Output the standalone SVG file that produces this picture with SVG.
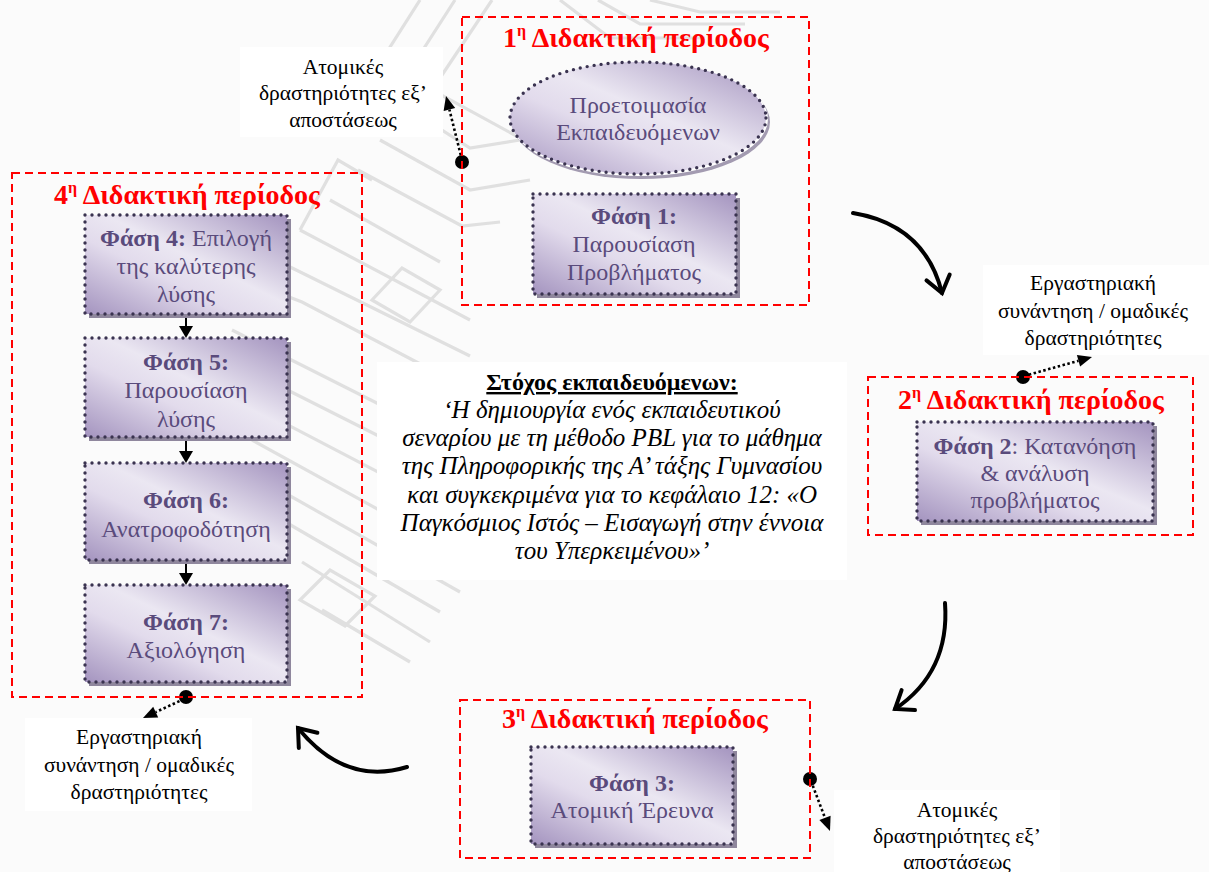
<svg xmlns="http://www.w3.org/2000/svg" width="1209" height="872" viewBox="0 0 1209 872">
  <defs>
    <linearGradient id="phaseFill" x1="0" y1="1" x2="1" y2="0">
      <stop offset="0" stop-color="#a494bf"/>
      <stop offset="0.38" stop-color="#e2dbec"/>
      <stop offset="0.55" stop-color="#ebe7f2"/>
      <stop offset="1" stop-color="#a494bf"/>
    </linearGradient>
  </defs>

  <!-- page background -->
  <rect width="1209" height="872" fill="#fbfbfb"/>

  <!-- faint circuit watermark along the diagonal band -->
  <g id="watermark" fill="none" stroke="#e0e0e0" stroke-width="3.2">
    <path d="M420,0 L350,110 L385,132"/>
    <path d="M455,0 L392,98 L470,148 L520,140"/>
    <path d="M492,0 L432,90 L520,138 L600,120"/>
    <path d="M560,0 L610,38 L705,38"/>
    <path d="M598,0 L640,24 L745,24"/>
    <path d="M650,0 L700,12 L780,12"/>
    <path d="M380,140 L470,190 L530,180"/>
    <path d="M358,170 L462,226 L500,222"/>
    <path d="M330,200 L440,262"/>
    <path d="M300,230 L470,320"/>
    <path d="M280,262 L470,356"/>
    <path d="M250,282 L302,302 L470,390"/>
    <path d="M232,330 L470,450"/>
    <path d="M232,362 L470,482"/>
    <path d="M240,400 L470,520"/>
    <path d="M252,440 L470,560"/>
    <path d="M262,480 L460,592"/>
    <path d="M282,520 L440,612"/>
    <path d="M302,562 L430,642"/>
    <path d="M322,610 L410,662"/>
    <path d="M372,300 L402,268 L440,290 L410,322 Z"/>
    <path d="M300,600 L330,570 L375,596 L345,626 Z"/>
    <path d="M300,230 L338,160 L372,180"/>
  </g>

  <!-- connectors -->
  <g id="connectors">
    <!-- curved flow arrows with open heads -->
    <g fill="none" stroke="#000000" stroke-width="4" stroke-linecap="round">
      <path d="M853,213 Q925,225 942,293"/>
      <path d="M926.5,280.4 L942,293 L949.7,274.6"/>
      <path d="M945,603 Q950,672 895,709"/>
      <path d="M901.6,690.1 L895,709 L915,710.1"/>
      <path d="M407,767 Q345,786 298,728"/>
      <path d="M317.4,732.8 L298,728 L298.8,748"/>
    </g>
    <!-- steps between phases -->
    <g stroke="#000000" stroke-width="2">
      <line x1="186" y1="314" x2="186" y2="327"/>
      <line x1="186" y1="437" x2="186" y2="452"/>
      <line x1="186" y1="560" x2="186" y2="574"/>
    </g>
    <g fill="#000000">
      <path d="M179,326 L193,326 L186,338 Z"/>
      <path d="M179,451 L193,451 L186,463 Z"/>
      <path d="M179,573 L193,573 L186,585 Z"/>
    </g>
    <!-- anchor dots and dotted pointers to the side notes -->
    <g fill="#000000">
      <circle cx="462" cy="162" r="7"/>
      <circle cx="1023" cy="377" r="7"/>
      <circle cx="810" cy="779" r="7"/>
      <circle cx="186" cy="697" r="7"/>
    </g>
    <g fill="none" stroke="#000000" stroke-width="2.6" stroke-dasharray="2.5 2.5">
      <path d="M462,160 L449.4,109.6"/>
      <path d="M1024,376 L1078.5,360.8"/>
      <path d="M811,781 L825,817.9"/>
      <path d="M184,699 L155.7,712.1"/>
    </g>
    <g fill="#000000">
      <path d="M455.2,108.1 L446,96 L443.6,111.1 Z"/>
      <path d="M1080.1,366.6 L1092,357 L1076.9,355 Z"/>
      <path d="M819.4,820 L830,831 L830.6,815.8 Z"/>
      <path d="M153.2,706.7 L143,718 L158.2,717.5 Z"/>
    </g>
  </g>

  <!-- side notes -->
  <g id="note-distance-1" font-family="Liberation Serif, serif" font-size="21.5" text-anchor="middle">
    <rect x="240" y="47" width="203" height="90" fill="#ffffff"/>
    <text font-family="Liberation Serif, serif" x="343" y="74">Ατομικές</text>
    <text font-family="Liberation Serif, serif" x="343" y="100">δραστηριότητες εξ’</text>
    <text font-family="Liberation Serif, serif" x="343" y="127">αποστάσεως</text>
  </g>
  <g id="note-lab-2" font-family="Liberation Serif, serif" font-size="21.5" text-anchor="middle">
    <rect x="983" y="265" width="226" height="90" fill="#ffffff"/>
    <text font-family="Liberation Serif, serif" x="1093" y="290">Εργαστηριακή</text>
    <text font-family="Liberation Serif, serif" x="1093" y="318">συνάντηση / ομαδικές</text>
    <text font-family="Liberation Serif, serif" x="1093" y="345">δραστηριότητες</text>
  </g>
  <g id="note-distance-3" font-family="Liberation Serif, serif" font-size="21.5" text-anchor="middle">
    <rect x="834" y="790" width="226" height="82" fill="#ffffff"/>
    <text font-family="Liberation Serif, serif" x="957" y="817">Ατομικές</text>
    <text font-family="Liberation Serif, serif" x="957" y="843">δραστηριότητες εξ’</text>
    <text font-family="Liberation Serif, serif" x="957" y="869">αποστάσεως</text>
  </g>
  <g id="note-lab-4" font-family="Liberation Serif, serif" font-size="21.5" text-anchor="middle">
    <rect x="25" y="718" width="227" height="93" fill="#ffffff"/>
    <text font-family="Liberation Serif, serif" x="139" y="744">Εργαστηριακή</text>
    <text font-family="Liberation Serif, serif" x="139" y="772">συνάντηση / ομαδικές</text>
    <text font-family="Liberation Serif, serif" x="139" y="799">δραστηριότητες</text>
  </g>

  <!-- learners' goal -->
  <g id="goal" font-family="Liberation Serif, serif" font-size="25" text-anchor="middle">
    <rect x="377" y="362" width="470" height="218" fill="#ffffff"/>
    <text font-family="Liberation Serif, serif" x="612" y="390" font-size="24" font-weight="bold" text-decoration="underline">Στόχος εκπαιδευόμενων:</text>
    <text font-family="Liberation Serif, serif" x="612" y="418" font-style="italic">‘Η δημιουργία ενός εκπαιδευτικού</text>
    <text font-family="Liberation Serif, serif" x="612" y="446" font-style="italic">σεναρίου με τη μέθοδο PBL για το μάθημα</text>
    <text font-family="Liberation Serif, serif" x="612" y="474" font-style="italic">της Πληροφορικής της Α’ τάξης Γυμνασίου</text>
    <text font-family="Liberation Serif, serif" x="612" y="503" font-style="italic">και συγκεκριμένα για το κεφάλαιο 12: «Ο</text>
    <text font-family="Liberation Serif, serif" x="612" y="531" font-style="italic">Παγκόσμιος Ιστός – Εισαγωγή στην έννοια</text>
    <text font-family="Liberation Serif, serif" x="612" y="559" font-style="italic">του Υπερκειμένου»’</text>
  </g>

  <!-- period frames -->
  <g id="period-1">
    <rect x="462" y="17" width="347" height="288" fill="none" stroke="#ff0000" stroke-width="2" stroke-dasharray="8 5"/>
    <text font-family="Liberation Serif, serif" font-size="28" font-weight="bold" fill="#ff0000" text-anchor="middle" x="636" y="47">1<tspan font-size="16" dy="-11">η</tspan><tspan dy="11"> Διδακτική περίοδος</tspan></text>
  </g>
  <g id="period-2">
    <rect x="868" y="377" width="325" height="158" fill="none" stroke="#ff0000" stroke-width="2" stroke-dasharray="8 5"/>
    <text font-family="Liberation Serif, serif" font-size="28" font-weight="bold" fill="#ff0000" text-anchor="middle" x="1031" y="409">2<tspan font-size="16" dy="-11">η</tspan><tspan dy="11"> Διδακτική περίοδος</tspan></text>
  </g>
  <g id="period-3">
    <rect x="460" y="700" width="350" height="158" fill="none" stroke="#ff0000" stroke-width="2" stroke-dasharray="8 5"/>
    <text font-family="Liberation Serif, serif" font-size="28" font-weight="bold" fill="#ff0000" text-anchor="middle" x="635" y="728">3<tspan font-size="16" dy="-11">η</tspan><tspan dy="11"> Διδακτική περίοδος</tspan></text>
  </g>
  <g id="period-4">
    <rect x="12" y="173" width="350" height="524" fill="none" stroke="#ff0000" stroke-width="2" stroke-dasharray="8 5"/>
    <text font-family="Liberation Serif, serif" font-size="28" font-weight="bold" fill="#ff0000" text-anchor="middle" x="187" y="204">4<tspan font-size="16" dy="-11">η</tspan><tspan dy="11"> Διδακτική περίοδος</tspan></text>
  </g>

  <!-- learner preparation -->
  <g id="prep" font-family="Liberation Serif, serif" font-size="24" fill="#5a4b7c" text-anchor="middle">
    <ellipse cx="641" cy="122" rx="129" ry="57" fill="#a39bb1"/>
    <ellipse cx="639" cy="119" rx="129" ry="57" fill="#ffffff"/>
    <ellipse cx="638" cy="118" rx="128" ry="56" fill="url(#phaseFill)" stroke="#3a3350" stroke-width="3.4" stroke-dasharray="0 7" stroke-linecap="round"/>
    <text font-family="Liberation Serif, serif" x="638" y="113">Προετοιμασία</text>
    <text font-family="Liberation Serif, serif" x="638" y="140">Εκπαιδευόμενων</text>
  </g>

  <!-- phase boxes: shadow, dotted gradient box, text -->
  <g id="phase-1" font-family="Liberation Serif, serif" font-size="24" fill="#5a4b7c" text-anchor="middle">
    <rect x="537" y="198" width="203" height="100" fill="#8f879d"/>
    <rect x="533" y="194" width="203" height="100" fill="url(#phaseFill)" stroke="#3a3350" stroke-width="3.4" stroke-dasharray="0 7" stroke-linecap="round"/>
    <text font-family="Liberation Serif, serif" x="634" y="224" font-weight="bold">Φάση 1:</text>
    <text font-family="Liberation Serif, serif" x="634" y="252">Παρουσίαση</text>
    <text font-family="Liberation Serif, serif" x="634" y="280">Προβλήματος</text>
  </g>
  <g id="phase-2" font-family="Liberation Serif, serif" font-size="24" fill="#5a4b7c" text-anchor="middle">
    <rect x="921" y="426" width="236" height="99" fill="#8f879d"/>
    <rect x="917" y="422" width="236" height="99" fill="url(#phaseFill)" stroke="#3a3350" stroke-width="3.4" stroke-dasharray="0 7" stroke-linecap="round"/>
    <text font-family="Liberation Serif, serif" x="1035" y="454"><tspan font-weight="bold">Φάση 2</tspan>: Κατανόηση</text>
    <text font-family="Liberation Serif, serif" x="1035" y="481">&amp; ανάλυση</text>
    <text font-family="Liberation Serif, serif" x="1035" y="508">προβλήματος</text>
  </g>
  <g id="phase-3" font-family="Liberation Serif, serif" font-size="24" fill="#5a4b7c" text-anchor="middle">
    <rect x="535" y="751" width="202" height="97" fill="#8f879d"/>
    <rect x="531" y="747" width="202" height="97" fill="url(#phaseFill)" stroke="#3a3350" stroke-width="3.4" stroke-dasharray="0 7" stroke-linecap="round"/>
    <text font-family="Liberation Serif, serif" x="632" y="791" font-weight="bold">Φάση 3:</text>
    <text font-family="Liberation Serif, serif" x="632" y="818">Ατομική Έρευνα</text>
  </g>
  <g id="phase-4" font-family="Liberation Serif, serif" font-size="24" fill="#5a4b7c" text-anchor="middle">
    <rect x="89" y="219" width="202" height="99" fill="#8f879d"/>
    <rect x="85" y="215" width="202" height="99" fill="url(#phaseFill)" stroke="#3a3350" stroke-width="3.4" stroke-dasharray="0 7" stroke-linecap="round"/>
    <text font-family="Liberation Serif, serif" x="186" y="246"><tspan font-weight="bold">Φάση 4:</tspan> Επιλογή</text>
    <text font-family="Liberation Serif, serif" x="186" y="274">της καλύτερης</text>
    <text font-family="Liberation Serif, serif" x="186" y="302">λύσης</text>
  </g>
  <g id="phase-5" font-family="Liberation Serif, serif" font-size="24" fill="#5a4b7c" text-anchor="middle">
    <rect x="89" y="342" width="202" height="99" fill="#8f879d"/>
    <rect x="85" y="338" width="202" height="99" fill="url(#phaseFill)" stroke="#3a3350" stroke-width="3.4" stroke-dasharray="0 7" stroke-linecap="round"/>
    <text font-family="Liberation Serif, serif" x="186" y="370" font-weight="bold">Φάση 5:</text>
    <text font-family="Liberation Serif, serif" x="186" y="398">Παρουσίαση</text>
    <text font-family="Liberation Serif, serif" x="186" y="427">λύσης</text>
  </g>
  <g id="phase-6" font-family="Liberation Serif, serif" font-size="24" fill="#5a4b7c" text-anchor="middle">
    <rect x="89" y="467" width="202" height="97" fill="#8f879d"/>
    <rect x="85" y="463" width="202" height="97" fill="url(#phaseFill)" stroke="#3a3350" stroke-width="3.4" stroke-dasharray="0 7" stroke-linecap="round"/>
    <text font-family="Liberation Serif, serif" x="186" y="508" font-weight="bold">Φάση 6:</text>
    <text font-family="Liberation Serif, serif" x="186" y="537">Ανατροφοδότηση</text>
  </g>
  <g id="phase-7" font-family="Liberation Serif, serif" font-size="24" fill="#5a4b7c" text-anchor="middle">
    <rect x="89" y="589" width="202" height="97" fill="#8f879d"/>
    <rect x="85" y="585" width="202" height="97" fill="url(#phaseFill)" stroke="#3a3350" stroke-width="3.4" stroke-dasharray="0 7" stroke-linecap="round"/>
    <text font-family="Liberation Serif, serif" x="186" y="630" font-weight="bold">Φάση 7:</text>
    <text font-family="Liberation Serif, serif" x="186" y="658">Αξιολόγηση</text>
  </g>
</svg>
